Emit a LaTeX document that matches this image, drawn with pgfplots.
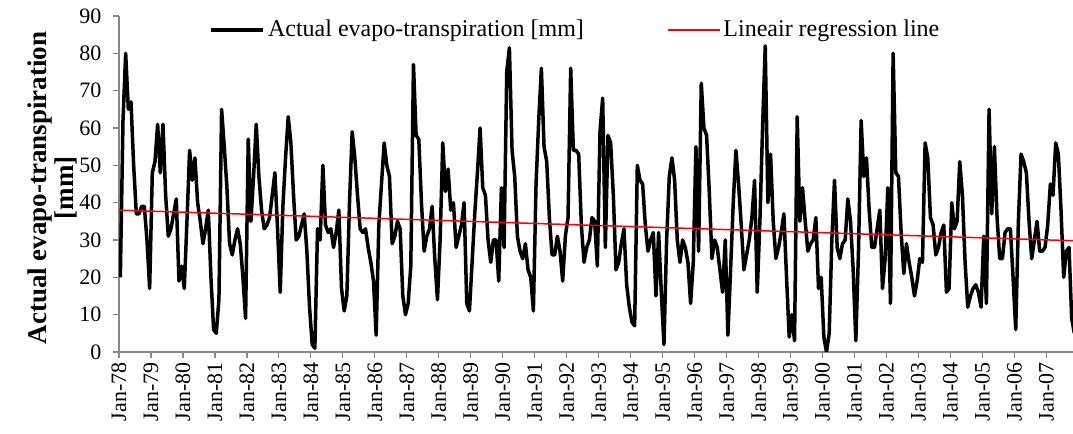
\documentclass[border=0pt]{standalone}
\usepackage{pgfplots}
\pgfplotsset{compat=1.18}
\usepackage{fontspec}
\setmainfont{Liberation Serif}

\begin{document}
\fontsize{11}{13}\selectfont
\begin{tikzpicture}
\begin{axis}[
    scale only axis,
    width=477pt, height=168pt,
    xmin=0, xmax=358,
    ymin=0, ymax=90,
    axis x line*=bottom, axis y line*=left,
    axis line style={draw=black!47, line width=0.6pt},
    xtick={0,12,...,348},
    xticklabels={Jan-78,Jan-79,Jan-80,Jan-81,Jan-82,Jan-83,Jan-84,Jan-85,Jan-86,Jan-87,
                 Jan-88,Jan-89,Jan-90,Jan-91,Jan-92,Jan-93,Jan-94,Jan-95,Jan-96,Jan-97,
                 Jan-98,Jan-99,Jan-00,Jan-01,Jan-02,Jan-03,Jan-04,Jan-05,Jan-06,Jan-07},
    xticklabel style={rotate=90, anchor=east, inner sep=2pt},
    ytick={0,10,...,90},
    yticklabel style={xshift=-2pt},
    tick align=outside,
    major tick length=3pt,
    tick style={draw=black!47, line width=0.6pt},
    ticklabel style={font=\fontsize{11}{13}\selectfont},
    /pgf/number format/assume math mode=true,
    ylabel={\textbf{Actual evapo-transpiration}\\\textbf{[mm]}},
    ylabel style={at={([xshift=-33.5pt,yshift=-2pt]axis description cs:0,0.5)}, anchor=center,
        align=center, font=\fontsize{13.5}{13.5}\selectfont},
    legend columns=2,
    legend style={at={(0.479,0.958)}, anchor=center, draw=none, fill=none,
        font=\fontsize{12}{14}\selectfont,
        nodes={inner xsep=1.5pt},
        /tikz/every even column/.append style={column sep=40pt}},
    clip=true,
]
\coordinate (O) at (rel axis cs:0,0);
\coordinate (TR) at (rel axis cs:1,1);
\addplot[black, line width=1.75pt, line join=round,
    legend image code/.code={\draw[black, line width=1.75pt] (0pt,0pt) -- (26pt,0pt);}]
    table[row sep=\\, header=false, x expr=\coordindex+0.5, y index=0] {
20\\62\\80\\65\\67\\50\\37\\37\\39\\39\\30\\17\\
48\\51\\61\\48\\61\\42\\31\\33\\37\\41\\19\\23\\
17\\35\\54\\46\\52\\40\\35\\29\\33\\38\\20\\6\\
5\\14\\65\\55\\44\\29\\26\\30\\33\\29\\20\\9\\
57\\35\\47\\61\\47\\38\\33\\34\\36\\42\\48\\33\\
16\\39\\52\\63\\56\\42\\30\\31\\34\\37\\27\\12\\
2\\1\\33\\30\\50\\34\\32\\33\\28\\32\\38\\17\\
11\\15\\40\\59\\52\\42\\33\\32\\33\\28\\24\\19\\
4.5\\34\\45\\56\\50\\47\\29\\31\\35\\33\\15\\10\\
13\\23\\77\\58\\57\\40\\27\\31\\33\\39\\25\\14\\
30\\56\\43\\49\\38\\40\\28\\31\\34\\40\\13\\11\\
24\\37\\48\\60\\44\\42\\30\\24\\30\\30\\19\\44\\
28\\75\\81.5\\54\\47\\31\\27\\25\\29\\22\\20\\11\\
45\\62\\76\\55\\51\\36\\26\\26\\31\\27\\19\\31\\
36\\76\\54\\54\\53\\34\\24\\28\\30\\36\\35\\23\\
59\\68\\28\\58\\56\\42\\22\\24\\29\\33\\18\\12\\
8\\7\\50\\46\\45\\34\\27\\30\\32\\15\\32\\16\\
2\\30\\47\\52\\46\\30\\24\\30\\28\\24\\13\\24\\
55\\27\\72\\60\\58\\43\\25\\30\\28\\22\\16\\30\\
4.5\\22\\40\\54\\45\\34\\22\\26\\30\\36\\46\\16\\
35\\60\\82\\40\\53\\35\\25\\28\\32\\37\\20\\4\\
10\\3\\63\\35\\44\\35\\27\\29\\30\\36\\17\\20\\
4\\0\\5\\30\\46\\28\\25\\29\\30\\41\\35\\22\\
3\\27\\62\\47\\52\\38\\28\\28\\33\\38\\17\\25\\
44\\13\\80\\48\\47\\32\\21\\29\\24\\20\\15\\19\\
25\\24\\56\\52\\36\\34\\26\\28\\32\\34\\16\\17\\
40\\33\\35\\51\\42\\24\\12\\15\\17\\18\\16\\12\\
31\\13\\65\\37\\55\\36\\25\\25\\32\\33\\33\\20\\
6\\35\\53\\51\\48\\35\\25\\30\\35\\27\\27\\28\\
34\\45\\42\\56\\53\\38\\20\\27\\28\\9\\5\\
};
\addlegendentry{Actual evapo-transpiration [mm]}
\addplot[draw=red, line width=0.75pt,
    legend image code/.code={\draw[red, line width=0.75pt] (0pt,0pt) -- (26pt,0pt);}]
    coordinates {(0,38.0) (358,29.8)};
\addlegendentry{Lineair regression line}
\end{axis}
\pgfresetboundingbox
\path ([xshift=-59.5pt,yshift=-41pt]O) rectangle ([yshift=8pt]TR);
\end{tikzpicture}
\end{document}
